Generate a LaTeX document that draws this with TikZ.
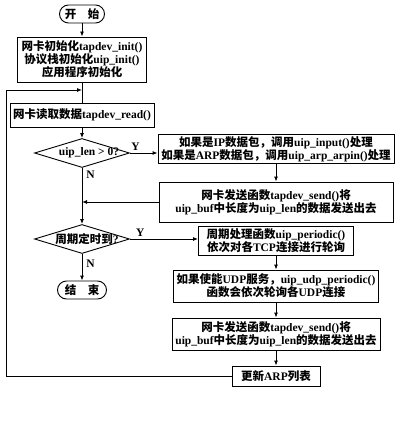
\documentclass[tikz,border=0pt]{standalone}
\usepackage{fontspec}
\setmainfont{Liberation Serif}
\newfontfamily\cjk{Noto Sans CJK SC}
\usetikzlibrary{positioning, arrows.meta, shapes.geometric}
\newcommand{\zh}[1]{{\cjk #1}}
\newcommand{\flowarrow}{-{Latex[length=5pt,width=4pt]}}

\begin{document}
\begin{tikzpicture}[x=1pt, y=-1pt, line width=0.9pt,
    every node/.style={font=\fontsize{11.5}{13}\selectfont\bfseries, inner sep=1pt},
    procbox/.style={draw, rectangle, align=center},
    decision/.style={draw, diamond, inner sep=0pt, minimum width=95pt, minimum height=29pt},
    terminal/.style={draw, rectangle, rounded corners=9pt, minimum height=18pt}]
    \useasboundingbox (0,0) rectangle (400,422);
            \node[terminal, minimum width=45pt] (start) at (82,14) {\zh{开\quad 始}};
            \node[procbox, minimum width=129pt, minimum height=45pt] (init) at (82,59.5)
            {\zh{网卡初始化}tapdev\_init()\\\zh{协议栈初始化}uip\_init()\\\zh{应用程序初始化}};
            \node[procbox, minimum width=144pt, minimum height=24pt] (read) at (82,115)
            {\zh{网卡读取数据}tapdev\_read()};
            \node[decision] (lencheck) at (82,153) {\makebox[0pt]{\hspace{14pt}uip\_len > 0?}};
            \node[procbox, minimum width=236pt, minimum height=29pt] (input) at (276,149)
            {\zh{如果是}IP\zh{数据包，调用}uip\_input()\zh{处理}\\\zh{如果是}ARP\zh{数据包，调用}uip\_arp\_arpin()\zh{处理}};
            \node[procbox, minimum width=234pt, minimum height=40pt] (sendone) at (276,202)
            {\zh{网卡发送函数}tapdev\_send()\zh{将}\\uip\_buf\zh{中长度为}uip\_len\zh{的数据发送出去}};
            \node[decision] (timer) at (82,239) {\makebox[0pt]{\hspace{10pt}\zh{周期定时到}?}};
            \node[procbox, minimum width=155pt, minimum height=29pt] (periodic) at (276,240.5)
            {\zh{周期处理函数}uip\_periodic()\\\zh{依次对各}TCP\zh{连接进行轮询}};
            \node[terminal, minimum width=49pt] (stop) at (82,290) {\zh{结\quad 束}};
            \node[procbox, minimum width=205pt, minimum height=32pt] (udp) at (276,286)
            {\zh{如果使能}UDP\zh{服务，}uip\_udp\_periodic()\\\zh{函数会依次轮询各}UDP\zh{连接}};
            \node[procbox, minimum width=208pt, minimum height=32pt] (sendtwo) at (276,334)
            {\zh{网卡发送函数}tapdev\_send()\zh{将}\\uip\_buf\zh{中长度为}uip\_len\zh{的数据发送出去}};
            \node[procbox, minimum width=88pt, minimum height=20pt] (arp) at (276,376)
            {\zh{更新}ARP\zh{列表}};
            \coordinate (join) at (82,90);
            % main line
            \draw[\flowarrow] (start) -- (init);
            \draw (init) -- (read);
            \draw[\flowarrow] (read) -- (lencheck);
            \draw[\flowarrow] (lencheck.east) -- (input.west |- lencheck.east)
            node[pos=0.2, above=1pt] {Y};
            \draw[\flowarrow] (lencheck.south) -- (timer.north)
            node[pos=0.12, right=3pt] {N};
            \draw[\flowarrow] (input) -- (sendone);
            \draw[\flowarrow] (sendone.west) -- (sendone.west -| lencheck.south);
            \draw[\flowarrow] (timer.east) -- (periodic.west |- timer.east)
            node[pos=0.15, above=1pt] {Y};
            \draw[\flowarrow] (timer.south) -- (stop)
            node[pos=0.35, right=3pt] {N};
            \draw[\flowarrow] (periodic) -- (udp);
            \draw[\flowarrow] (udp) -- (sendtwo);
            \draw[\flowarrow] (sendtwo) -- (arp);
            % loop back
            \draw[\flowarrow] (arp.west) -- ++(-225,0) |- (join);
        \end{tikzpicture}
\end{document}
